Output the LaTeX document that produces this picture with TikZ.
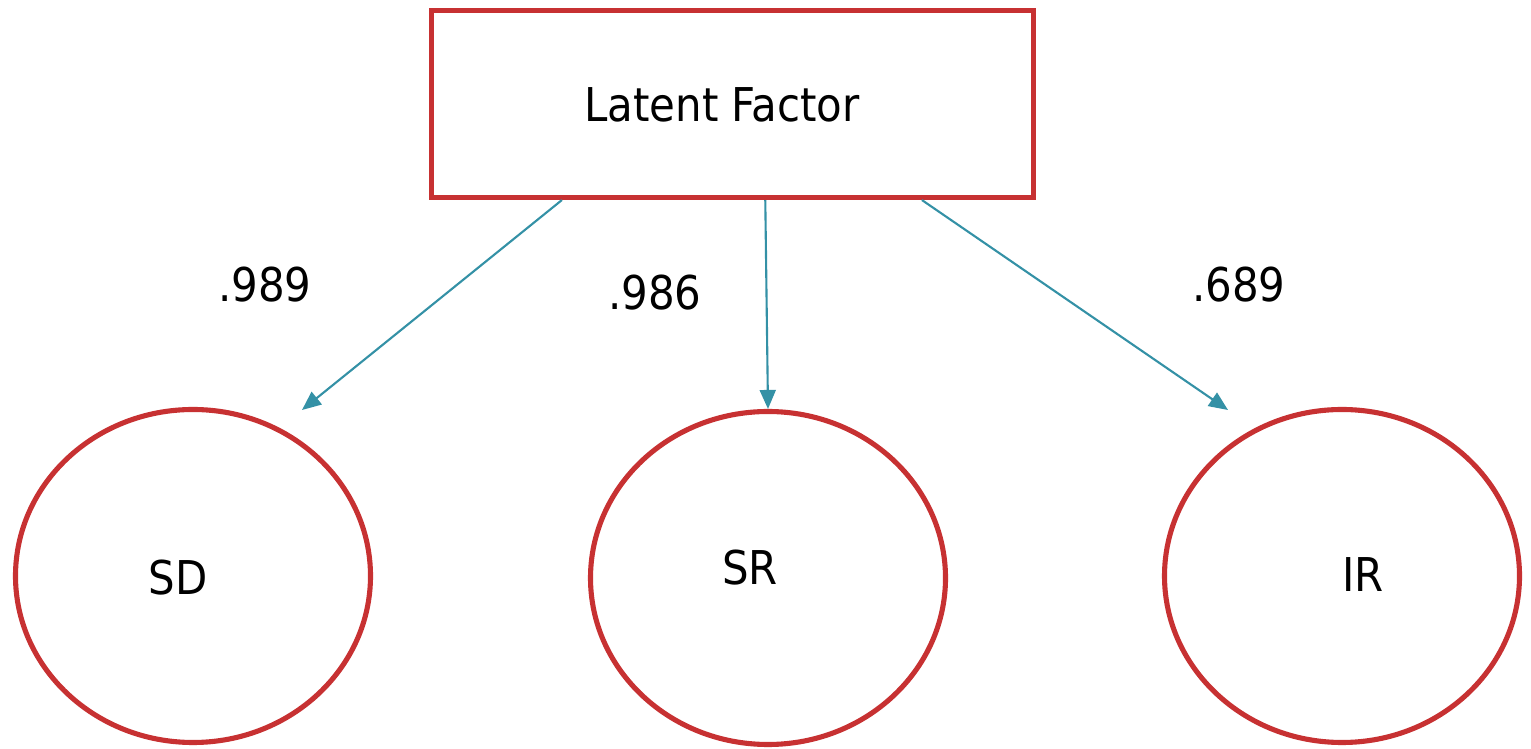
\documentclass[tikz,border=0pt]{standalone}
\usepackage{fontspec}
\setmainfont{DejaVu Sans Condensed}
\usetikzlibrary{shapes,arrows,positioning,calc,arrows.meta}
\definecolor{boxred}{RGB}{199,49,50}
\definecolor{loadteal}{RGB}{52,145,166}

\begin{document}
\begin{tikzpicture}[
    factor/.style={rectangle, draw=boxred, line width=2.9pt, minimum width=12.04cm, minimum height=3.74cm, font=\fontsize{26.5}{30}\selectfont},
    indicator/.style={ellipse, draw=boxred, line width=2.9pt, minimum width=7.1cm, minimum height=6.66cm},
    arrow/.style={-{Triangle[length=0.38cm,width=0.32cm]}, loadteal, line width=1.2pt},
    label/.style={font=\fontsize{26.5}{30}\selectfont}
]

% canvas
\useasboundingbox (0,0) rectangle (30.62,14.98);

% Latent factor box
\node[factor] (lf) at (14.65, 12.90) {};
\node[label] (lftext) at (14.44, 12.88) {Latent Factor};

% Indicators
\node[indicator] (sd) at (3.86, 3.46) {};
\node[indicator] (sr) at (15.36, 3.42) {};
\node[indicator] (ir) at (26.84, 3.46) {};

\node[label] (sdtext) at (3.56, 3.42) {SD};
\node[label] (srtext) at (15.00, 3.62) {SR};
\node[label] (irtext) at (27.26, 3.48) {IR};

% Loadings
\coordinate (s1) at ($(lf.south west)!0.219!(lf.south east)$);
\coordinate (s2) at ($(lf.south west)!0.554!(lf.south east)$);
\coordinate (s3) at ($(lf.south west)!0.812!(lf.south east)$);
\coordinate (e1) at (6.04, 6.78);
\coordinate (e3) at (24.56, 6.78);

\draw[arrow] (s1) -- (e1);
\draw[arrow] (s2) -- (sr.north);
\draw[arrow] (s3) -- (e3);

\node[label] (l1) at (5.30, 9.28) {.989};
\node[label] (l2) at (13.10, 9.12) {.986};
\node[label] (l3) at (24.78, 9.28) {.689};

\end{tikzpicture}
\end{document}
